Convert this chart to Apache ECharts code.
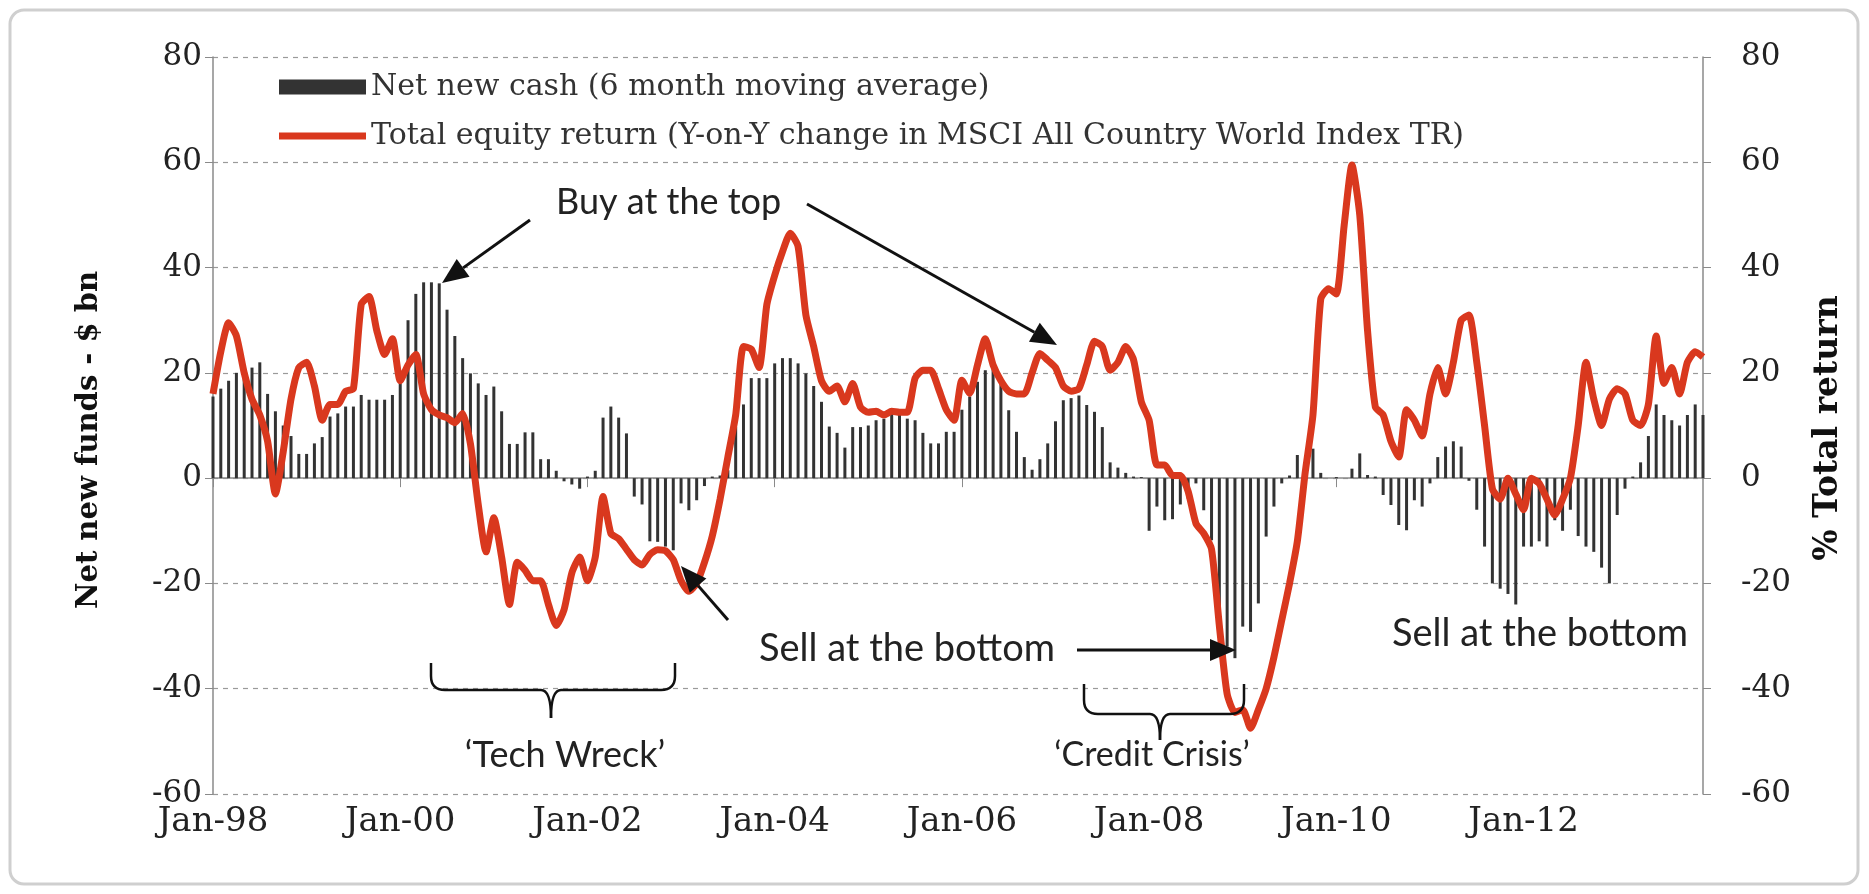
<!DOCTYPE html>
<html><head><meta charset="utf-8">
<script src="https://cdn.jsdelivr.net/npm/echarts@6/dist/echarts.min.js"></script>
<style>html,body{margin:0;padding:0;background:#fff}#c{width:1869px;height:894px}</style>
</head><body><div id="c"></div>
<script>
const monthNames = ['Jan','Feb','Mar','Apr','May','Jun','Jul','Aug','Sep','Oct','Nov','Dec'];
const firstYear = 1998, lastYear = 2013;
const categories = [];
for (let y = firstYear; y <= lastYear; y++) for (const m of monthNames) categories.push(m + '-' + String(y % 100).padStart(2, '0'));

const seriesNames = ['Net new cash (6 month moving average)', 'Total equity return (Y-on-Y change in MSCI All Country World Index TR)'];

// Net new cash, $ bn (6 month moving average), Jan-98 .. Dec-13
const netNewCash = [
 15.5,17,18.5,20,21,21,22,16,12.7,10,8,4.6,
 4.6,6.6,7.8,11.7,12.3,13.6,13.6,15.8,14.9,14.9,14.9,15.8,
 18,30,35,37.2,37.2,37,32,27,22.8,19.9,18,15.8,
 17.4,12.7,6.5,6.5,8.7,8.7,3.6,3.6,1.4,-0.6,-1.2,-2,
 0.3,1.4,11.5,13.6,11.5,8.5,-3.5,-5,-12,-12.1,-13,-13.7,
 -4.8,-6.1,-4.2,-1.5,0.3,0.5,1.5,9.7,14,19,19,19,
 21.8,22.8,22.8,21.8,19.9,17.5,14.5,9.8,8.6,5.8,9.7,9.7,
 10,11,11.3,12.5,12,11.3,11,8.6,6.6,6.6,8.8,8.8,
 13,15.5,18.3,20.5,21,18.3,12.9,8.8,4,1.6,3.6,6.6,
 10.8,14.8,15.2,15.7,13.9,12.6,9.7,3,2,1,0.3,0.2,
 -10,-5.4,-8,-7.8,-5,-3.9,-1,-6.1,-11.8,-26,-32,-34.2,
 -28.2,-29.2,-23.8,-11.1,-5.4,-1,0.5,4.4,3,5.6,1,0,
 0.2,0,1.8,4.7,0.6,0.3,-3.2,-5.1,-8.9,-9.9,-4.2,-5.4,
 -1,4,6,7,6,-0.5,-6,-13,-20,-21,-22,-24,
 -13,-13,-12,-13,-8,-10,-6,-11,-13,-14,-17,-20,
 -7,-2,0.3,3,8,14,12,11,10,12,14,12
];

// Total equity return, % (Y-on-Y change in MSCI ACWI TR), Jan-98 .. Dec-13
const totalReturn = [
 16,24,29.5,27,20,15,12,7,-3,5,15,21,
 22,17.5,11,14,14,16.5,17,33,34.5,28,23.5,26.5,
 18.5,21.5,23.5,16,13,12,11.5,10.5,12.3,6.5,-5,-14,
 -7.5,-15,-24,-16,-17.5,-19.5,-19.5,-24,-28,-25,-18,-15,
 -19.5,-15,-3.5,-10.5,-11.5,-13.5,-15.5,-16.5,-14.5,-13.6,-13.8,-15.5,
 -19.5,-21.5,-20,-16,-11,-4,4,12,25,24.5,21,33,
 38.5,43,46.5,44,31,25,18.5,16.5,17.5,14.5,18,13.5,
 12.5,12.7,12,12.7,12.5,12.5,19,20.5,20.5,17,13,11,
 18.6,16.1,21.5,26.5,21.5,18.5,16.5,16,16,20,23.7,22.4,
 21,17.5,16.5,17,21.5,26,25,20.5,22,25,22.5,14.5,
 11,2.5,2.5,0.5,0.5,-2.5,-8.6,-10.5,-13.5,-28,-41,-44.5,
 -44,-47.5,-44,-40,-34,-27,-20,-12,1,12,34,36,
 35,48,59.5,50,28,13.5,12,7,4,13,11,8,
 16,21,16,22,30,31,22,10,-2,-4,0,-3,
 -6,0,-1,-4,-7,-4,0,10,22,15,10,15,
 17,16,11,10,14,27,18,21,16,22,24,23
];

const axisMin = -60, axisMax = 80, axisStep = 20;
const leftTitle = 'Net new funds - $ bn';
const rightTitle = '% Total return';

const serif = 'DejaVu Serif';
const sans = 'Lato';
const chart = echarts.init(document.getElementById('c'), null, {renderer: 'canvas'});

const ink = {stroke: '#111', lineWidth: 2.5, fill: null};
function arrow(x1, y1, x2, y2) {
  const ang = Math.atan2(y2 - y1, x2 - x1);
  const L = 26, W = 11;
  const bx = x2 - L * Math.cos(ang), by = y2 - L * Math.sin(ang);
  const px = -Math.sin(ang) * W, py = Math.cos(ang) * W;
  return [
    {type: 'line', shape: {x1: x1, y1: y1, x2: bx, y2: by}, style: {stroke: '#111', lineWidth: 3}, z: 100},
    {type: 'polygon', shape: {points: [[x2, y2], [bx + px, by + py], [bx - px, by - py]]}, style: {fill: '#111'}, z: 100}
  ];
}
function brace(x1, x2, xc, yTop, yLine, yTip) {
  const r = 14, c = 10;
  const seg = (a, b, cx, cy) => ({type: 'bezierCurve', z: 100, shape: {x1: a[0], y1: a[1], x2: b[0], y2: b[1], cpx1: cx, cpy1: cy}, style: ink});
  const ln = (a, b) => ({type: 'line', z: 100, shape: {x1: a[0], y1: a[1], x2: b[0], y2: b[1]}, style: ink});
  return [
    ln([x1, yTop], [x1, yLine - r]),
    seg([x1, yLine - r], [x1 + r, yLine], x1, yLine),
    ln([x1 + r, yLine], [xc - c, yLine]),
    seg([xc - c, yLine], [xc, yTip], xc, yLine),
    seg([xc, yTip], [xc + c, yLine], xc, yLine),
    ln([xc + c, yLine], [x2 - r, yLine]),
    seg([x2 - r, yLine], [x2, yLine - r], x2, yLine),
    ln([x2, yLine - r], [x2, yTop])
  ];
}
const txt = (x, y, s, align, size) => ({type: 'text', z: 100, style: {x: x, y: y, text: s, font: `${size || 36}px ${sans}`, fill: '#222', textAlign: align || 'left', textVerticalAlign: 'middle'}});
const vtitle = (x, y, s, size) => ({type: 'text', z: 100, x: x, y: y, rotation: Math.PI / 2,
  style: {x: 0, y: 0, text: s, font: `bold ${size}px ${serif}`, fill: '#111', textAlign: 'center', textVerticalAlign: 'middle'}});

const graphics = [
  {type: 'rect', shape: {x: 10, y: 10, width: 1848, height: 874, r: 14}, style: {fill: null, stroke: '#cfcfcf', lineWidth: 3}, z: 0},
  vtitle(89, 440, leftTitle, 29),
  vtitle(1828, 428, rightTitle, 33),
  txt(556, 202, 'Buy at the top'),
  ...arrow(530, 220, 442, 283),
  ...arrow(807, 204, 1057, 345),
  txt(759, 649, 'Sell at the bottom', 'left', 38),
  ...arrow(728, 620, 681, 566),
  ...arrow(1077, 650, 1236, 650),
  txt(1392, 634, 'Sell at the bottom', 'left', 38),
  ...brace(431, 675, 551, 663, 690, 718),
  txt(565, 755, '\u2018Tech Wreck\u2019', 'center'),
  ...brace(1084, 1244, 1160, 684, 714, 740),
  txt(1152, 755, '\u2018Credit Crisis\u2019', 'center', 34)
];

const yAxisCommon = {
  type: 'value', min: axisMin, max: axisMax, interval: axisStep,
  axisLine: {show: true, lineStyle: {color: '#8a8a8a', width: 1.5}},
  axisTick: {show: true, length: 8, lineStyle: {color: '#8a8a8a'}},
  axisLabel: {fontFamily: serif, fontSize: 31, color: '#222', margin: 11}
};

chart.setOption({
  animation: false,
  backgroundColor: '#fff',
  grid: {left: 213, right: 166, top: 57, bottom: 100},
  legend: {
    orient: 'vertical', left: 274, top: 67, itemWidth: 87, itemHeight: 15, itemGap: 19,
    textStyle: {fontFamily: serif, fontSize: 30, color: '#333'},
    data: [
      {name: seriesNames[0], icon: 'rect'},
      {name: seriesNames[1], icon: 'path://M0,0H100V8H0Z'}
    ]
  },
  xAxis: [{
    type: 'category', data: categories, boundaryGap: false,
    axisLine: {onZero: true, lineStyle: {color: '#8a8a8a', width: 1.5}},
    axisTick: {show: true, interval: 23, length: 9, lineStyle: {color: '#8a8a8a'}},
    axisLabel: {show: false}, splitLine: {show: false}
  }, {
    type: 'category', data: categories, boundaryGap: false, position: 'bottom',
    axisLine: {show: false, onZero: false}, axisTick: {show: false},
    axisLabel: {interval: 23, fontFamily: serif, fontSize: 34, color: '#222', margin: 11},
    splitLine: {show: false}
  }],
  yAxis: [
    Object.assign({}, yAxisCommon, {position: 'left',
      splitLine: {show: true, lineStyle: {color: '#9a9a9a', type: [5, 5], width: 1.2}}}),
    Object.assign({}, yAxisCommon, {position: 'right',
      axisLabel: Object.assign({}, yAxisCommon.axisLabel, {margin: 38}),
      splitLine: {show: false}})
  ],
  series: [{
    name: seriesNames[0], type: 'bar', data: netNewCash, xAxisIndex: 0, yAxisIndex: 0,
    barWidth: 3, itemStyle: {color: '#333'}
  }, {
    name: seriesNames[1], type: 'line', data: totalReturn, xAxisIndex: 0, yAxisIndex: 1,
    symbol: 'none', smooth: 0.2, lineStyle: {color: '#d9381e', width: 7}, itemStyle: {color: '#d9381e'}, z: 5
  }],
  graphic: graphics
});
</script></body></html>
